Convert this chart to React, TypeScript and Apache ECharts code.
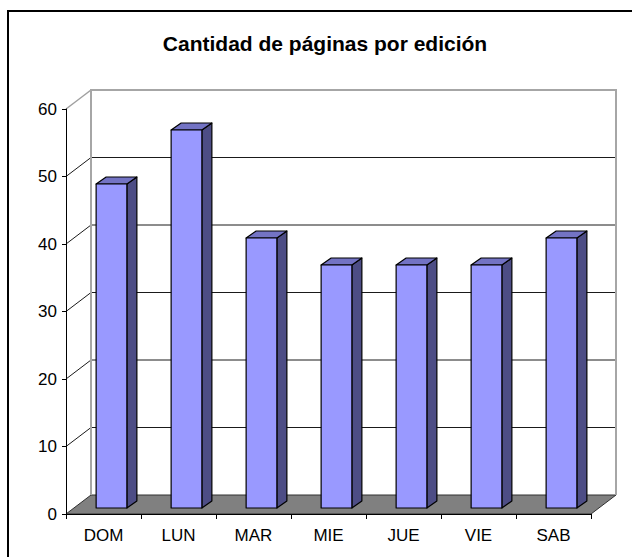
import React, { useEffect, useRef } from "react";
import * as echarts from "echarts";

const categories = ["DOM", "LUN", "MAR", "MIE", "JUE", "VIE", "SAB"];
const pages = [48, 56, 40, 36, 36, 36, 40];
const yTicks = [0, 10, 20, 30, 40, 50, 60];
const chartTitle = "Cantidad de páginas por edición";

const FONT = "'Liberation Sans', Arial, sans-serif";

export default function App() {
  const ref = useRef<HTMLDivElement>(null);
  useEffect(() => {
    if (!ref.current) return;
    const chart = echarts.init(ref.current, null, { renderer: "svg" });
    const yMax = yTicks[yTicks.length - 1];
    const DX = 25, DY = -19; // depth of the 3D box
    const FX = 8, FY = -6; // bar front offset
    const SX = 10, SY = -7; // bar depth

    const option: any = {
      animation: false,
      backgroundColor: "#ffffff",
      title: {
        text: chartTitle,
        left: 320,
        top: 28,
        textAlign: "center",
        textStyle: { fontFamily: FONT, fontSize: 21, fontWeight: "bold", color: "#000" },
      },
      graphic: [
        {
          type: "rect",
          shape: { x: 8, y: 11, width: 700, height: 600 },
          style: { fill: "none", stroke: "#000", lineWidth: 2 },
          z: 100,
        },
      ],
      grid: { left: 66, top: 109, width: 525, height: 405, containLabel: false },
      xAxis: {
        type: "category",
        data: categories,
        boundaryGap: true,
        axisLine: { lineStyle: { color: "#000", width: 1 } },
        axisTick: { show: true, length: 5, inside: false, lineStyle: { color: "#000" } },
        axisLabel: { fontFamily: FONT, fontSize: 17, color: "#000", margin: 13 },
        splitLine: { show: false },
        z: 10,
      },
      yAxis: {
        type: "value",
        min: 0,
        max: yMax,
        interval: 10,
        axisLine: { show: true, lineStyle: { color: "#000", width: 1 } },
        axisTick: { show: true, length: 4, inside: false, lineStyle: { color: "#000" } },
        axisLabel: { fontFamily: FONT, fontSize: 17, color: "#000", margin: 9 },
        splitLine: { show: false },
        z: 10,
      },
      series: [
        {
          type: "custom",
          clip: false,
          silent: true,
          z: 1,
          data: [[0, 0]],
          encode: { x: 0, y: 1 },
          renderItem: (params: any, api: any) => {
            const cs = params.coordSys;
            const x0 = cs.x;
            const x1 = cs.x + cs.width;
            const yOf = (v: number) => api.coord([0, v])[1];
            const y0 = yOf(0);
            const yT = yOf(yMax);
            const children: any[] = [];
            children.push({
              type: "polygon",
              shape: { points: [[x0, y0], [x0 + DX, y0 + DY], [x1 + DX, y0 + DY], [x1, y0]] },
              style: { fill: "#808080", stroke: "#303030", lineWidth: 1 },
            });
            yTicks.forEach((v) => {
              if (v === 0) return;
              const y = yOf(v);
              const isTop = v === yMax;
              const col = isTop ? "#a0a0a0" : "#1a1a1a";
              children.push({
                type: "line",
                shape: { x1: x0, y1: y, x2: x0 + DX, y2: y + DY },
                style: { stroke: col, lineWidth: isTop ? 1.5 : 1 },
              });
              if (!isTop) {
                children.push({
                  type: "line",
                  shape: { x1: x0 + DX, y1: y + DY, x2: x1 + DX, y2: y + DY },
                  style: { stroke: col, lineWidth: 1 },
                });
              }
            });
            children.push({
              type: "polyline",
              shape: {
                points: [
                  [x0 + DX, y0 + DY],
                  [x0 + DX, yT + DY],
                  [x1 + DX, yT + DY],
                  [x1 + DX, y0 + DY],
                ],
              },
              style: { fill: "none", stroke: "#a6a6a6", lineWidth: 2 },
            });
            return { type: "group", children };
          },
        },
        {
          type: "custom",
          clip: false,
          silent: true,
          z: 3,
          data: pages.map((v, i) => [i, v]),
          encode: { x: 0, y: 1 },
          renderItem: (params: any, api: any) => {
            const i = api.value(0);
            const v = api.value(1);
            const top = api.coord([i, v]);
            const base = api.coord([i, 0]);
            const bw = api.size([1, 0])[0] * 0.41;
            const L = top[0] - bw / 2 + FX;
            const R = L + bw;
            const T = top[1] + FY;
            const B = base[1] + FY;
            const stroke = { stroke: "#000", lineWidth: 1.2, lineJoin: "round" };
            return {
              type: "group",
              children: [
                {
                  type: "polygon",
                  shape: { points: [[R, T], [R + SX, T + SY], [R + SX, B + SY], [R, B]] },
                  style: { fill: "#4d4d85", ...stroke },
                },
                {
                  type: "polygon",
                  shape: { points: [[L, T], [L + SX, T + SY], [R + SX, T + SY], [R, T]] },
                  style: { fill: "#7373c4", ...stroke },
                },
                {
                  type: "polygon",
                  shape: { points: [[L, T], [R, T], [R, B], [L, B]] },
                  style: { fill: "#9999ff", ...stroke },
                },
              ],
            };
          },
        },
      ],
    };
    chart.setOption(option);
    return () => chart.dispose();
  }, []);
  return (
    <div
      ref={ref}
      style={{ position: "fixed", left: 0, top: 0, width: 632, height: 557, background: "#fff" }}
    />
  );
}
